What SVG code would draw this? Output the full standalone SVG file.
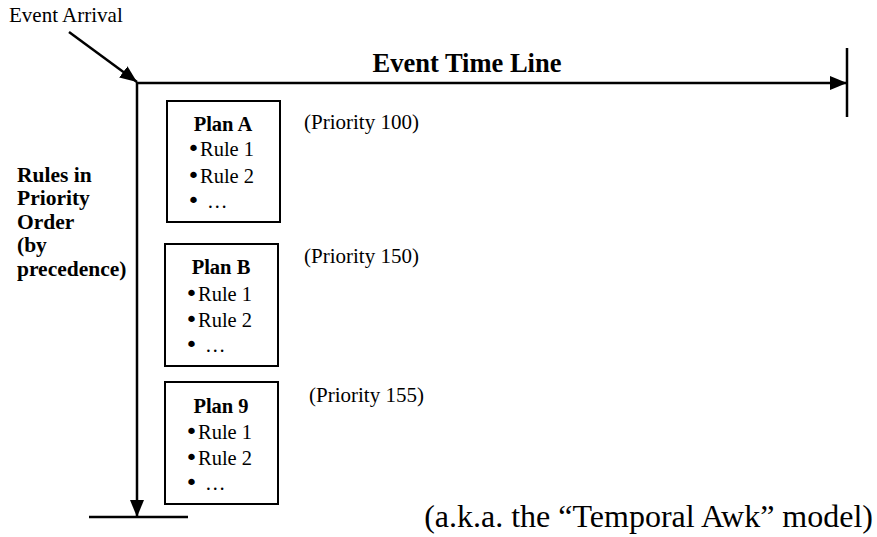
<svg xmlns="http://www.w3.org/2000/svg" width="877" height="537" viewBox="0 0 877 537">
<style>
text{font-family:"Liberation Serif","Times New Roman",serif;fill:#000}
.b{font-weight:bold}
.ln{stroke:#000;stroke-width:2.5;fill:none}
.box{fill:#fff;stroke:#000;stroke-width:2}
.t{font-size:20.5px}
.bul{font-family:"DejaVu Sans",sans-serif;font-size:22px}
.p{font-size:21px}
</style>
<defs>
<marker id="ah" markerUnits="userSpaceOnUse" markerWidth="17" markerHeight="14" refX="17" refY="7" orient="auto">
<path d="M0,0 L17,7 L0,14 z" fill="#000"/>
</marker>
</defs>
<rect width="877" height="537" fill="#fff"/>
<g id="connectors">
<path class="ln" d="M69,32 L137,82" marker-end="url(#ah)"/>
<path class="ln" d="M137,83 L847,83" marker-end="url(#ah)"/>
<path class="ln" d="M847,48 L847,117"/>
<path class="ln" d="M137,82 L137,517" marker-end="url(#ah)"/>
<path class="ln" d="M89,517 L188,517"/>
</g>
<g id="labels">
<text x="9" y="22" font-size="21">Event Arrival</text>
<text x="467" y="72" font-size="26.5" class="b" text-anchor="middle">Event Time Line</text>
<g class="b" font-size="21.5">
<text x="17" y="182">Rules in</text>
<text x="17" y="205">Priority</text>
<text x="17" y="229">Order</text>
<text x="17" y="252">(by</text>
<text x="17" y="276">precedence)</text>
</g>
<text x="873" y="527" font-size="32" text-anchor="end">(a.k.a. the “Temporal Awk” model)</text>
</g>
<g id="planA">
<rect class="box" x="167" y="101" width="113" height="121"/>
<text class="t b" x="223" y="131" text-anchor="middle">Plan A</text>
<text class="t" x="187" y="156"><tspan class="bul">•</tspan>Rule 1</text>
<text class="t" x="187" y="183"><tspan class="bul">•</tspan>Rule 2</text>
<text class="t" x="187" y="208"><tspan class="bul">•</tspan><tspan x="207">…</tspan></text>
<text class="p" x="304" y="129">(Priority 100)</text>
</g>
<g id="planB">
<rect class="box" x="165" y="244" width="113" height="122"/>
<text class="t b" x="221" y="274" text-anchor="middle">Plan B</text>
<text class="t" x="185" y="301"><tspan class="bul">•</tspan>Rule 1</text>
<text class="t" x="185" y="327"><tspan class="bul">•</tspan>Rule 2</text>
<text class="t" x="185" y="352"><tspan class="bul">•</tspan><tspan x="205">…</tspan></text>
<text class="p" x="304" y="263">(Priority 150)</text>
</g>
<g id="plan9">
<rect class="box" x="165" y="382" width="113" height="122"/>
<text class="t b" x="221" y="413" text-anchor="middle">Plan 9</text>
<text class="t" x="185" y="439"><tspan class="bul">•</tspan>Rule 1</text>
<text class="t" x="185" y="465"><tspan class="bul">•</tspan>Rule 2</text>
<text class="t" x="185" y="490"><tspan class="bul">•</tspan><tspan x="205">…</tspan></text>
<text class="p" x="309" y="402">(Priority 155)</text>
</g>
</svg>
